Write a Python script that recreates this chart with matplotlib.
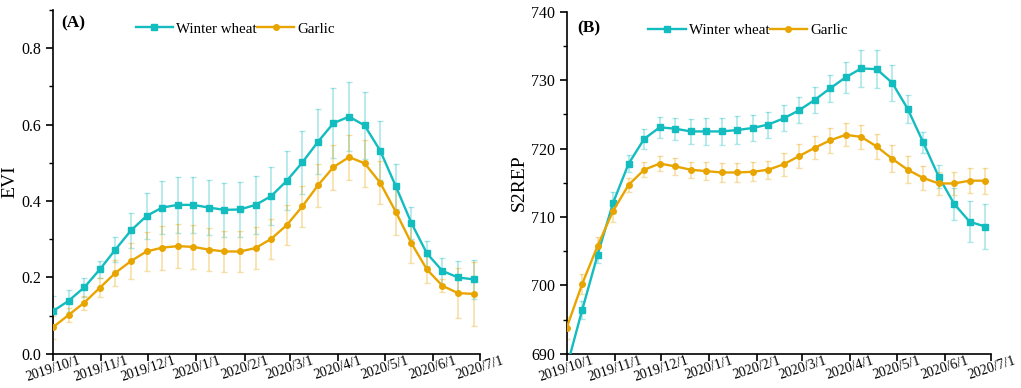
import numpy as np
import pandas as pd
import matplotlib
matplotlib.use("Agg")
import matplotlib.pyplot as plt
import matplotlib.dates as mdates
from matplotlib.ticker import MultipleLocator

plt.rcParams["font.family"] = ["Liberation Serif", "DejaVu Serif"]

# 10-day composites starting 2019/10/1
dates = pd.date_range("2019-10-01", periods=28, freq="10D")

# EVI (panel A)
evi_wheat = [0.112, 0.139, 0.174, 0.221, 0.273, 0.323, 0.361, 0.383, 0.390, 0.390,
             0.383, 0.377, 0.378, 0.390, 0.413, 0.453, 0.501, 0.555, 0.604, 0.621,
             0.598, 0.532, 0.439, 0.343, 0.263, 0.217, 0.200, 0.195]
evi_wheat_err = [0.040, 0.029, 0.025, 0.023, 0.033, 0.047, 0.060, 0.070, 0.073, 0.073,
                 0.071, 0.071, 0.073, 0.075, 0.076, 0.077, 0.082, 0.085, 0.091, 0.090,
                 0.088, 0.078, 0.059, 0.042, 0.033, 0.034, 0.043, 0.051]
evi_garlic = [0.070, 0.102, 0.134, 0.173, 0.212, 0.243, 0.268, 0.278, 0.282, 0.280,
              0.273, 0.268, 0.268, 0.277, 0.301, 0.337, 0.386, 0.441, 0.489, 0.515,
              0.499, 0.448, 0.372, 0.290, 0.221, 0.178, 0.159, 0.157]
evi_garlic_err = [0.030, 0.018, 0.018, 0.025, 0.035, 0.046, 0.052, 0.058, 0.057, 0.057,
                  0.056, 0.054, 0.054, 0.055, 0.053, 0.053, 0.053, 0.057, 0.059, 0.059,
                  0.061, 0.056, 0.060, 0.051, 0.036, 0.017, 0.066, 0.084]

# S2REP (panel B)
rep_wheat = [688.0, 696.4, 704.5, 712.1, 717.8, 721.4, 723.1, 722.9, 722.5, 722.5,
             722.5, 722.7, 723.0, 723.5, 724.4, 725.6, 727.1, 728.8, 730.4, 731.7,
             731.6, 729.6, 725.8, 720.9, 715.9, 711.9, 709.3, 708.6]
rep_wheat_err = [1.3, 1.3, 1.2, 1.5, 1.2, 1.5, 1.5, 1.6, 1.8, 2.0,
                 2.0, 2.0, 1.9, 1.9, 1.9, 1.9, 1.9, 2.0, 2.3, 2.7,
                 2.8, 2.6, 2.0, 1.5, 1.7, 2.4, 3.0, 3.3]
rep_garlic = [693.8, 700.2, 705.8, 710.9, 714.7, 716.9, 717.8, 717.4, 716.9, 716.7,
              716.5, 716.5, 716.6, 716.9, 717.7, 718.9, 720.1, 721.2, 722.0, 721.7,
              720.3, 718.5, 716.9, 715.7, 714.9, 714.9, 715.3, 715.3]
rep_garlic_err = [1.6, 1.4, 1.3, 1.6, 1.0, 1.1, 1.1, 1.2, 1.2, 1.3,
                  1.4, 1.4, 1.4, 1.3, 1.7, 1.7, 1.7, 1.8, 1.7, 1.7,
                  1.8, 2.0, 2.0, 1.7, 1.7, 1.7, 1.8, 1.9]

WHEAT_COLOR = "#13bcbf"
GARLIC_COLOR = "#e8a500"


def draw(ax, wheat, wheat_err, garlic, garlic_err):
    for vals, err, color, marker, label in [
        (wheat, wheat_err, WHEAT_COLOR, "s", "Winter wheat"),
        (garlic, garlic_err, GARLIC_COLOR, "o", "Garlic"),
    ]:
        ax.errorbar(dates, vals, yerr=err, fmt="none", ecolor=color, alpha=0.35,
                    elinewidth=1.2, capsize=2.5, capthick=1.0, zorder=2)
        ax.plot(dates, vals, color=color, lw=1.7, marker=marker, ms=4,
                label=label, zorder=3)

    ax.set_xlim(pd.Timestamp("2019-10-01"), pd.Timestamp("2020-07-01"))
    ax.xaxis.set_major_locator(mdates.MonthLocator())
    ax.xaxis.set_major_formatter(
        plt.FuncFormatter(lambda v, _: "{0.year}/{0.month}/{0.day}".format(mdates.num2date(v))))
    ax.tick_params(axis="x", labelsize=10, direction="out", length=5, width=1.2, pad=-5)
    ax.tick_params(axis="y", labelsize=11.5, direction="out", length=5, width=1.2)
    ax.tick_params(axis="y", which="minor", direction="out", length=3, width=1.0)
    plt.setp(ax.get_xticklabels(), rotation=18, ha="center")
    for s in ("top", "right"):
        ax.spines[s].set_visible(False)
    for s in ("left", "bottom"):
        ax.spines[s].set_linewidth(1.2)
    ax.legend(loc="upper center", bbox_to_anchor=(0.427, 1.0), ncol=2, frameon=False,
              fontsize=10.8, handlelength=2.5, handletextpad=0.2, columnspacing=0.0,
              borderaxespad=0.4)


fig = plt.figure(figsize=(10.21, 3.88), dpi=100)
ax1 = fig.add_axes([0.052, 0.088, 0.418, 0.886])
ax2 = fig.add_axes([0.555, 0.088, 0.416, 0.882])

draw(ax1, evi_wheat, evi_wheat_err, evi_garlic, evi_garlic_err)
ax1.set_ylim(0, 0.9)
ax1.yaxis.set_major_locator(MultipleLocator(0.2))
ax1.yaxis.set_minor_locator(MultipleLocator(0.1))
ax1.yaxis.set_major_formatter(plt.FuncFormatter(lambda v, _: f"{v:.1f}"))
ax1.set_ylabel("EVI", fontsize=14, labelpad=2)
ax1.text(0.02, 0.985, "(A)", transform=ax1.transAxes, fontsize=12.5,
         fontweight="bold", ha="left", va="top")

draw(ax2, rep_wheat, rep_wheat_err, rep_garlic, rep_garlic_err)
ax2.set_ylim(690, 740)
ax2.yaxis.set_major_locator(MultipleLocator(10))
ax2.yaxis.set_minor_locator(MultipleLocator(5))
ax2.set_ylabel("S2REP", fontsize=14, labelpad=2)
ax2.text(0.025, 0.975, "(B)", transform=ax2.transAxes, fontsize=12.5,
         fontweight="bold", ha="left", va="top")

fig.savefig("out.png", dpi=100, facecolor="white")
